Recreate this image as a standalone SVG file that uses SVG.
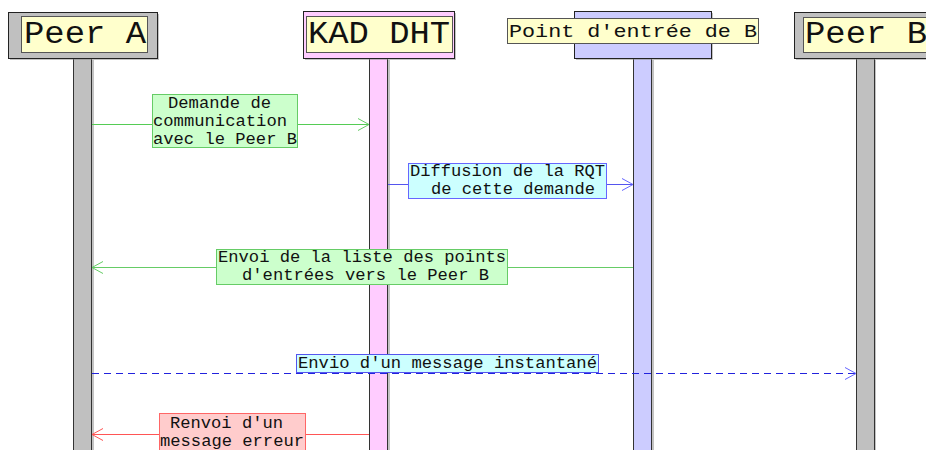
<svg xmlns="http://www.w3.org/2000/svg" width="926" height="450" viewBox="0 0 926 450">
  <defs>
    <style>
      .hdr { stroke: #222; stroke-width: 1; }
      .name { fill: #ffffcc; stroke: #555; stroke-width: 1; }
      .big { font-family: "Liberation Mono", "Courier New", monospace; font-size: 31px; fill: #111; }
      .mid { font-family: "Liberation Mono", "Courier New", monospace; font-size: 19px; fill: #111; }
      .lbl { font-family: "Liberation Mono", "Courier New", monospace; font-size: 16px; fill: #111; }
      .life { stroke: #333; stroke-width: 1; }
      .shadow { fill: #888; opacity: 0.5; }
      .msg { fill: none; stroke-width: 1; }
    </style>
    <marker id="arrGreen" markerWidth="14" markerHeight="14" refX="12" refY="7" orient="auto" markerUnits="userSpaceOnUse">
      <path d="M1,1 L12,7 L1,13" fill="none" stroke="#66cc66" stroke-width="1"/>
    </marker>
    <marker id="arrBlue" markerWidth="14" markerHeight="14" refX="12" refY="7" orient="auto" markerUnits="userSpaceOnUse">
      <path d="M1,1 L12,7 L1,13" fill="none" stroke="#6666ff" stroke-width="1"/>
    </marker>
    <marker id="arrRed" markerWidth="14" markerHeight="14" refX="12" refY="7" orient="auto" markerUnits="userSpaceOnUse">
      <path d="M1,1 L12,7 L1,13" fill="none" stroke="#ff5555" stroke-width="1"/>
    </marker>
  </defs>

  <rect width="926" height="450" fill="#ffffff"/>

  <!-- Peer A -->
  <g id="peer-a">
    <rect class="shadow" x="76" y="60" width="18" height="392"/>
    <rect class="life" x="73.5" y="58.5" width="18" height="400" fill="#c0c0c0"/>
    <rect class="shadow" x="10" y="14" width="149" height="46"/>
    <rect class="hdr" x="8.5" y="12.5" width="149" height="46" fill="#c0c0c0"/>
    <rect class="name" x="21.5" y="16.5" width="126" height="36"/>
    <text class="big" x="24" y="43" textLength="122" lengthAdjust="spacingAndGlyphs">Peer A</text>
  </g>

  <!-- KAD DHT -->
  <g id="kad-dht">
    <rect class="shadow" x="372" y="60" width="18" height="392"/>
    <rect class="life" x="369.5" y="58.5" width="18" height="400" fill="#ffccff"/>
    <rect class="shadow" x="305" y="13" width="151" height="47"/>
    <rect class="hdr" x="303.5" y="11.5" width="151" height="47" fill="#ffccff"/>
    <rect class="name" x="306.5" y="16.5" width="146" height="36"/>
    <text class="big" x="308" y="43" textLength="142" lengthAdjust="spacingAndGlyphs">KAD DHT</text>
  </g>

  <!-- Point d'entrée de B -->
  <g id="point-entree-b">
    <rect class="shadow" x="636" y="60" width="18" height="392"/>
    <rect class="life" x="633.5" y="58.5" width="18" height="400" fill="#ccccff"/>
    <rect class="shadow" x="576" y="13" width="137" height="47"/>
    <rect class="hdr" x="574.5" y="11.5" width="137" height="47" fill="#ccccff"/>
    <rect class="name" x="507.5" y="18.5" width="251" height="25"/>
    <text class="mid" x="509" y="37" textLength="248" lengthAdjust="spacingAndGlyphs">Point d'entrée de B</text>
  </g>

  <!-- Peer B -->
  <g id="peer-b">
    <rect class="shadow" x="858" y="60" width="18" height="392"/>
    <rect class="life" x="856.5" y="58.5" width="18" height="400" fill="#c0c0c0"/>
    <rect class="shadow" x="796" y="14" width="140" height="46"/>
    <rect class="hdr" x="794.5" y="12.5" width="140" height="46" fill="#c0c0c0"/>
    <rect class="name" x="803.5" y="17.5" width="130" height="35"/>
    <text class="big" x="805" y="43" textLength="122" lengthAdjust="spacingAndGlyphs">Peer B</text>
  </g>

  <!-- Connectors -->
  <g id="connectors">
    <line class="msg" x1="92" y1="124.5" x2="369" y2="124.5" stroke="#55cc55" marker-end="url(#arrGreen)"/>
    <line class="msg" x1="388" y1="184.5" x2="633" y2="184.5" stroke="#5555ee" marker-end="url(#arrBlue)"/>
    <line class="msg" x1="633" y1="267.5" x2="92" y2="267.5" stroke="#66cc66" marker-end="url(#arrGreen)"/>
    <line class="msg" x1="92" y1="373.5" x2="856" y2="373.5" stroke="#2222dd" stroke-dasharray="7,5" marker-end="url(#arrBlue)"/>
    <line class="msg" x1="369" y1="434.5" x2="92" y2="434.5" stroke="#ff5555" marker-end="url(#arrRed)"/>
  </g>

  <!-- Message labels -->
  <g id="label-demande">
    <rect x="152.5" y="94.5" width="145" height="53" fill="#ccffcc" stroke="#66cc66"/>
    <text class="lbl" x="168" y="108" textLength="103" lengthAdjust="spacingAndGlyphs">Demande de</text>
    <text class="lbl" x="153" y="126" textLength="134" lengthAdjust="spacingAndGlyphs">communication</text>
    <text class="lbl" x="153" y="144" textLength="144" lengthAdjust="spacingAndGlyphs">avec le Peer B</text>
  </g>

  <g id="label-diffusion">
    <rect x="408.5" y="163.5" width="198" height="35" fill="#ccffff" stroke="#6666ff"/>
    <text class="lbl" x="410" y="176" textLength="195" lengthAdjust="spacingAndGlyphs">Diffusion de la RQT</text>
    <text class="lbl" x="431" y="194" textLength="164" lengthAdjust="spacingAndGlyphs">de cette demande</text>
  </g>

  <g id="label-envoi">
    <rect x="216.5" y="249.5" width="291" height="35" fill="#ccffcc" stroke="#66cc66"/>
    <text class="lbl" x="218" y="262" textLength="288" lengthAdjust="spacingAndGlyphs">Envoi de la liste des points</text>
    <text class="lbl" x="242" y="280" textLength="247" lengthAdjust="spacingAndGlyphs">d'entrées vers le Peer B</text>
  </g>

  <g id="label-envio">
    <rect x="296.5" y="354.5" width="302" height="18" fill="#ccffff" stroke="#5555ee"/>
    <text class="lbl" x="298" y="368" textLength="299" lengthAdjust="spacingAndGlyphs">Envio d'un message instantané</text>
  </g>

  <g id="label-renvoi">
    <rect x="159.5" y="413.5" width="146" height="45" fill="#ffcccc" stroke="#ff6666"/>
    <text class="lbl" x="170" y="428" textLength="113" lengthAdjust="spacingAndGlyphs">Renvoi d'un</text>
    <text class="lbl" x="160" y="446" textLength="144" lengthAdjust="spacingAndGlyphs">message erreur</text>
  </g>
</svg>
